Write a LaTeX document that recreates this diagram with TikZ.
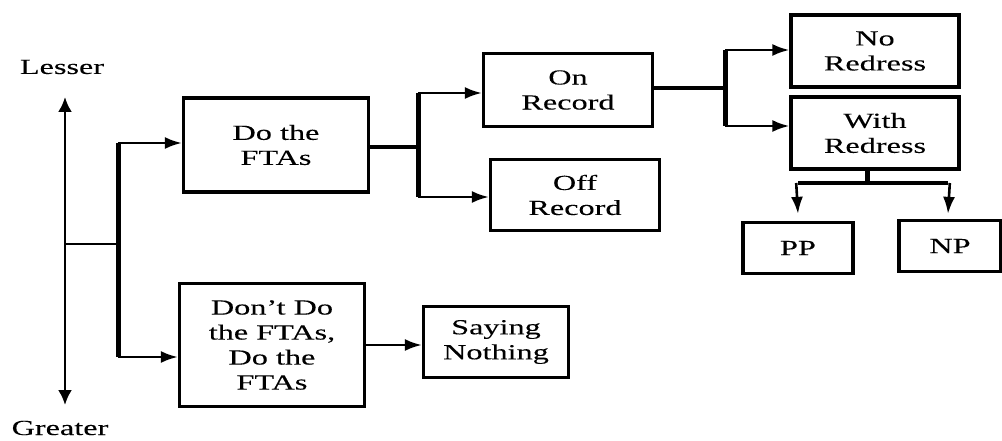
\documentclass[tikz,border=0pt]{standalone}
\usepackage{fontspec}
\setmainfont{Liberation Serif}[FakeStretch=1.5,FakeBold=0.15]
\usetikzlibrary{arrows.meta, positioning, calc}
\tikzstyle{Box}=[rectangle,
		draw=black,
		line width=3.2pt,
		align=center,
		inner sep=0pt,
		font=\fontsize{21.5}{25}\selectfont]
\tikzstyle{Label}=[align=center,
		inner sep=0pt,
		font=\fontsize{21.5}{25}\selectfont]
\tikzstyle{arr}=[-{Latex[length=17pt,width=12pt]},line width=2.6pt]
\tikzstyle{bar}=[line width=5pt]
\tikzstyle{link}=[line width=3.6pt]

\begin{document}
\begin{tikzpicture}[x=1pt,y=-1pt]
  \useasboundingbox (0,0) rectangle (1002,441);

  % scale of face threat
  \node [Label] (lesser) at (62,67) {Lesser};
  \node [Label] (greater) at (60,428) {Greater};
  \coordinate (top) at (65,97);
  \coordinate (bottom) at (65,405);
  \draw [{Latex[length=15pt,width=14pt]}-{Latex[length=15pt,width=14pt]},line width=2.6pt] (top) -- (bottom);

  % strategy boxes
  \node [Box,minimum width=185pt,minimum height=94pt] (fta) at (276,145) {Do the\\FTAs};
  \node [Box,minimum width=185pt,minimum height=123pt] (dont) at (272,345) {Don’t Do\\the FTAs,\\Do the\\FTAs};
  \node [Box,minimum width=145pt,minimum height=71pt] (say) at (496,342) {Saying\\Nothing};
  \node [Box,minimum width=169pt,minimum height=73pt] (onrec) at (568,90) {On\\Record};
  \node [Box,minimum width=169pt,minimum height=71pt] (offrec) at (575,195) {Off\\Record};
  \node [Box,minimum width=168pt,minimum height=72pt] (nored) at (875,51) {No\\Redress};
  \node [Box,minimum width=168pt,minimum height=72pt] (withred) at (875,133) {With\\Redress};
  \node [Box,minimum width=110pt,minimum height=51pt] (pp) at (798,248) {PP};
  \node [Box,minimum width=102pt,minimum height=51pt] (np) at (950,246) {NP};

  % first split
  \coordinate (s0) at (65,244);
  \coordinate (s1) at (118,244);
  \coordinate (s1a) at (118,143);
  \coordinate (s1b) at (118,357);
  \draw [line width=2.6pt] (s0) -- (s1);
  \draw [bar] (s1a) -- (s1b);
  \draw [arr] (s1a) -- (fta.west |- s1a);
  \draw [arr] (s1b) -- (dont.west |- s1b);
  \draw [arr] (dont.east) -- (say.west |- dont.east);

  % on / off record
  \coordinate (s2) at (418,147);
  \coordinate (s2a) at (418,93);
  \coordinate (s2b) at (418,197);
  \draw [link] (fta.east |- s2) -- (s2);
  \draw [bar] (s2a) -- (s2b);
  \draw [arr] (s2a) -- (onrec.west |- s2a);
  \draw [arr] (s2b) -- (offrec.west |- s2b);

  % redress
  \coordinate (s3) at (725,88);
  \coordinate (s3a) at (725,50);
  \coordinate (s3b) at (725,126);
  \draw [link] (onrec.east |- s3) -- (s3);
  \draw [bar] (s3a) -- (s3b);
  \draw [arr] (s3a) -- (nored.west |- s3a);
  \draw [arr] (s3b) -- (withred.west |- s3b);

  % positive / negative politeness
  \coordinate (s4) at (867,183);
  \coordinate (s4a) at (798,183);
  \coordinate (s4b) at (948,183);
  \draw [bar] (withred.south -| s4) -- (s4);
  \draw [link] (s4a) -- (s4b);
  \draw [arr] ([xshift=-1.8pt]s4a) -- ([yshift=7pt]pp.north);
  \draw [arr] ([xshift=1.8pt]s4b) -- ([yshift=5pt]np.north -| s4b);
\end{tikzpicture}
\end{document}
